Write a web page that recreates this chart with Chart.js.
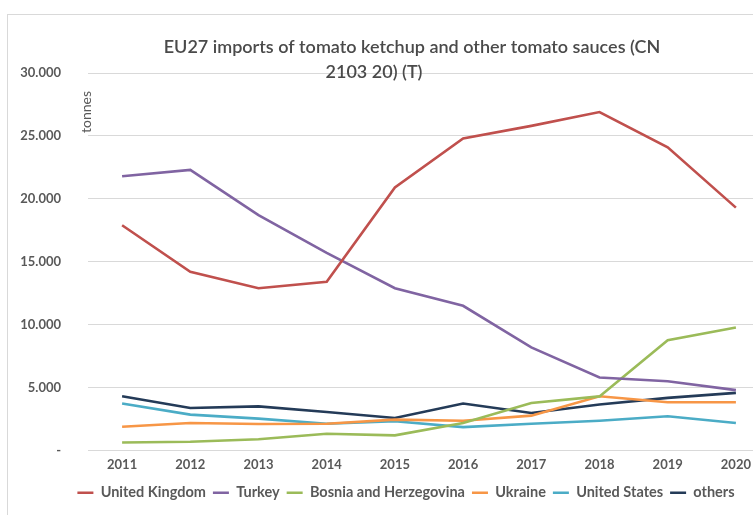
<!DOCTYPE html>
<html>
<head>
<meta charset="utf-8">
<script src="https://cdn.jsdelivr.net/npm/chart.js@4.4.0/dist/chart.umd.min.js"></script>
<style>
  html, body { margin: 0; padding: 0; background: #fff; overflow: hidden; width: 753px; height: 515px; }
  #frame { position: absolute; left: 7px; top: 14px; width: 830px; height: 520px;
           border-left: 1px solid #d9d9d9; border-top: 1px solid #d9d9d9; }
  #wrap { position: absolute; left: 0; top: 0; width: 810px; height: 501px; }
</style>
</head>
<body>
<div id="frame"><div id="wrap"><canvas id="chart"></canvas></div></div>
<script>
// years on the x axis
const years = ['2011', '2012', '2013', '2014', '2015', '2016', '2017', '2018', '2019', '2020'];

// tonnes
const unitedKingdom = [17900, 14200, 12900, 13400, 20900, 24800, 25800, 26900, 24100, 19300];
const turkey        = [21800, 22300, 18700, 15700, 12900, 11500, 8200, 5800, 5500, 4800];
const bosnia        = [640, 700, 900, 1330, 1200, 2180, 3780, 4300, 8760, 9770];
const ukraine       = [1890, 2180, 2100, 2130, 2450, 2370, 2770, 4310, 3830, 3830];
const unitedStates  = [3730, 2850, 2530, 2130, 2320, 1860, 2130, 2370, 2720, 2180];
const others        = [4310, 3380, 3510, 3060, 2580, 3730, 2980, 3650, 4180, 4580];

const yTicks = [0, 5000, 10000, 15000, 20000, 25000, 30000];

const titleLines = ['EU27 imports of tomato ketchup and other tomato sauces (CN', '2103 20) (T)'];

const grey = '#595959';

function line(label, data, color) {
  return {
    label: label,
    data: data,
    borderColor: color,
    backgroundColor: color,
    borderWidth: 2.6,
    pointRadius: 0,
    pointHoverRadius: 0,
    tension: 0,
    pointStyle: 'line'
  };
}

// title and the "tonnes" label, drawn by hand like the excel chart
const extraText = {
  id: 'extraText',
  afterLayout(chart) {
    // legend sits a bit to the right in the original
    if (chart.legend) { chart.legend.left += 17; chart.legend.right += 17; }
  },
  afterDraw(chart) {
    const ctx = chart.ctx;
    const area = chart.chartArea;
    ctx.save();
    ctx.fillStyle = '#4a4a4a';
    ctx.textBaseline = 'middle';
    ctx.textAlign = 'center';
    ctx.font = '600 18px Lato';
    ctx.fillText(titleLines[0], area.left + 324, area.top - 26);
    ctx.fillText(titleLines[1], area.left + 286, area.top - 1);
    ctx.translate(area.left - 2, area.top + 39);
    ctx.rotate(-Math.PI / 2);
    ctx.fillStyle = grey;
    ctx.font = '14px Lato';
    ctx.fillText('tonnes', 0, 0);
    ctx.restore();
  }
};

new Chart(document.getElementById('chart'), {
  type: 'line',
  data: {
    labels: years,
    datasets: [
      line('United Kingdom', unitedKingdom, '#c0504d'),
      line('Turkey', turkey, '#8064a2'),
      line('Bosnia and Herzegovina', bosnia, '#9bbb59'),
      line('Ukraine', ukraine, '#f79646'),
      line('United States', unitedStates, '#4bacc6'),
      line('others', others, '#243b58')
    ]
  },
  options: {
    responsive: true,
    maintainAspectRatio: false,
    animation: false,
    layout: { padding: { top: 58, right: 48, bottom: 6, left: 0 } },
    plugins: {
      title: { display: false },
      tooltip: { enabled: false },
      legend: {
        position: 'bottom',
        labels: {
          usePointStyle: true,
          pointStyle: 'line',
          pointStyleWidth: 16,
          padding: 7,
          color: grey,
          font: { family: 'Lato', size: 14.5, weight: 'bold' }
        }
      }
    },
    scales: {
      x: {
        offset: true,
        grid: { display: false, drawTicks: false },
        border: { display: false },
        ticks: { color: grey, padding: 7, font: { family: 'Lato', size: 13, weight: 'bold' } },
        afterFit(scale) { scale.height = 28; }
      },
      y: {
        min: 0,
        max: 30000,
        afterBuildTicks(scale) { scale.ticks = yTicks.map(v => ({ value: v })); },
        grid: { color: '#d9d9d9', lineWidth: 1, drawTicks: false },
        border: { display: false },
        ticks: {
          color: grey,
          padding: 27,
          font: { family: 'Lato', size: 13, weight: 'bold' },
          callback: v => v === 0 ? '-' : v.toLocaleString('de-DE')
        },
        afterFit(scale) { scale.width = 80; }
      }
    }
  },
  plugins: [extraText]
});
</script>
</body>
</html>
